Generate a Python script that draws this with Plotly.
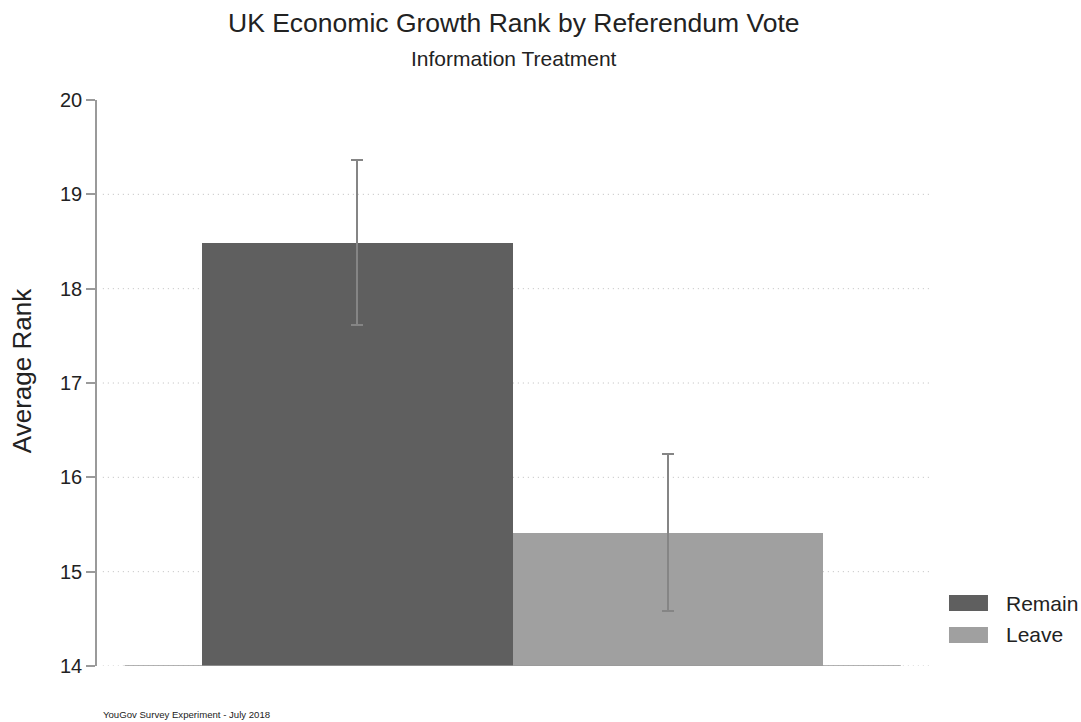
import plotly.graph_objects as go

# ---- data ----
groups = ["Remain", "Leave"]
positions = [0, 1]
means = [18.48, 15.41]
ci_upper = [19.36, 16.25]
ci_lower = [17.61, 14.58]
bar_colors = ["#5f5f5f", "#a0a0a0"]
y_ticks = [14, 15, 16, 17, 18, 19, 20]

title_text = "UK Economic Growth Rank by Referendum Vote"
subtitle_text = "Information Treatment"
caption_text = "YouGov Survey Experiment - July 2018"
ytitle_text = "Average Rank"

FONT = "Liberation Sans, Arial, Helvetica, sans-serif"

fig = go.Figure()
for g, xpos, m, hi, lo, c in zip(groups, positions, means, ci_upper, ci_lower, bar_colors):
    fig.add_trace(go.Bar(
        x=[xpos], y=[m - y_ticks[0]], base=[y_ticks[0]], name=g,
        width=1.0, marker=dict(color=c, line=dict(width=0)),
        error_y=dict(type="data", symmetric=False, array=[hi - m], arrayminus=[m - lo],
                     color="#858585", thickness=2, width=6),
        showlegend=False,
    ))

# dotted gridlines
for t in y_ticks[:-1]:
    fig.add_shape(type="line", xref="paper", yref="y", x0=0.007, x1=1.0, y0=t, y1=t,
                  line=dict(color="#bdbdbd", width=1, dash="1px,4px"), layer="below")
# solid baseline
fig.add_shape(type="line", xref="x", yref="y", x0=-0.75, x1=1.75, y0=y_ticks[0], y1=y_ticks[0],
              line=dict(color="#9a9a9a", width=1.5), layer="above")

# manual legend
leg_y = [0.1113, 0.0548]
for g, c, yy in zip(groups, bar_colors, leg_y):
    fig.add_shape(type="rect", xref="paper", yref="paper", x0=1.0228, x1=1.0696,
                  y0=yy - 0.0141, y1=yy + 0.0141, fillcolor=c, line=dict(width=0))
    fig.add_annotation(xref="paper", yref="paper", x=1.089, y=yy, text=g, showarrow=False,
                       xanchor="left", yanchor="middle", font=dict(size=21, color="#222", family=FONT))

# titles
fig.add_annotation(xref="paper", yref="paper", x=0.5, y=1.0, yshift=77, text=title_text,
                   showarrow=False, xanchor="center", yanchor="middle",
                   font=dict(size=26.5, color="#222", family=FONT))
fig.add_annotation(xref="paper", yref="paper", x=0.5, y=1.0, yshift=42, text=subtitle_text,
                   showarrow=False, xanchor="center", yanchor="middle",
                   font=dict(size=21, color="#222", family=FONT))
fig.add_annotation(xref="paper", yref="paper", x=0.005, y=0, yshift=-48, text=caption_text,
                   showarrow=False, xanchor="left", yanchor="middle",
                   font=dict(size=9.6, color="#222", family=FONT))
fig.add_annotation(xref="paper", yref="paper", x=-0.09, y=0.521, text=ytitle_text,
                   showarrow=False, xanchor="center", yanchor="middle", textangle=-90,
                   font=dict(size=26, color="#222", family=FONT))

fig.update_layout(
    width=1081, height=722,
    margin=dict(l=97, r=151, t=100, b=56),
    paper_bgcolor="white", plot_bgcolor="white",
    font=dict(family=FONT, color="#222"),
    bargap=0,
    xaxis=dict(range=[-0.839, 1.844], showgrid=False, zeroline=False, showline=False,
               showticklabels=False, ticks=""),
    yaxis=dict(range=[y_ticks[0], y_ticks[-1]], tickvals=y_ticks, showgrid=False, zeroline=False,
               showline=True, linecolor="#9a9a9a", linewidth=1.5,
               ticks="outside", ticklen=9, tickcolor="#9a9a9a", tickwidth=1.5,
               tickfont=dict(size=20, color="#222", family=FONT)),
)

fig.write_html("out.html", config={"displayModeBar": False},
               post_script="document.body.style.margin='0';")
